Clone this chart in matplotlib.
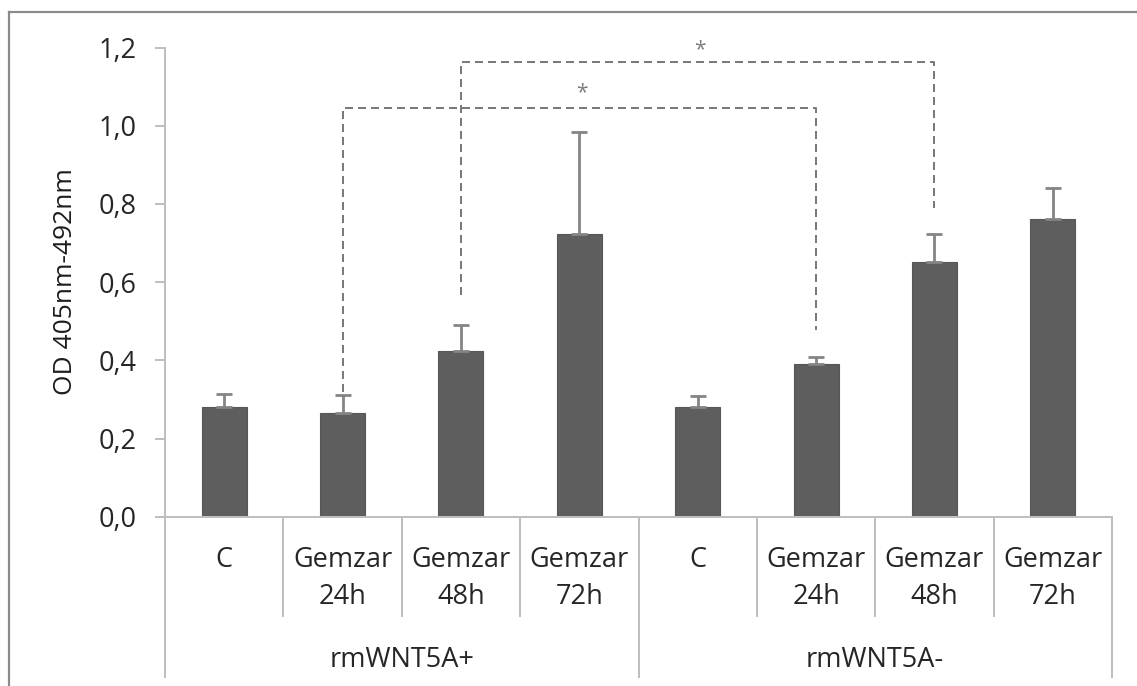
import matplotlib
matplotlib.use("Agg")
import matplotlib.pyplot as plt
from matplotlib.lines import Line2D
import numpy as np

# ---- data ----
line1 = ["C", "Gemzar", "Gemzar", "Gemzar", "C", "Gemzar", "Gemzar", "Gemzar"]
line2 = ["", "24h", "48h", "72h", "", "24h", "48h", "72h"]
groups = ["rmWNT5A+", "rmWNT5A-"]
group_size = 4
means = [0.281, 0.266, 0.425, 0.722, 0.281, 0.390, 0.651, 0.761]
err_up = [0.033, 0.045, 0.065, 0.263, 0.028, 0.019, 0.071, 0.079]
yticks = [0.0, 0.2, 0.4, 0.6, 0.8, 1.0, 1.2]
ytick_labels = ["0,0", "0,2", "0,4", "0,6", "0,8", "1,0", "1,2"]
ylabel = "OD 405nm-492nm"

bracket_pairs = [(1, 5), (2, 6)]
bracket_tops = [1.046, 1.162]
bracket_left_ends = [0.318, 0.567]
bracket_right_ends = [0.477, 0.790]
star_heights = [1.085, 1.195]

# ---- style ----
plt.rcParams['font.family'] = ['Open Sans', 'DejaVu Sans']
plt.rcParams['lines.scale_dashes'] = False
W, H = 1137, 686
px = 72 / 100.0  # points per pixel at dpi 100
text_col = "#262626"
axis_col = "#bfbfbf"
bar_col = "#5e5e5e"
err_col = "#858585"
dash_col = "#7a7a7a"
fs = 19.5

fig = plt.figure(figsize=(W / 100, H / 100), dpi=100)
x0, x1 = 165, 1112
y0, ytop = 516.7, 47.5
ax = fig.add_axes([x0 / W, (H - y0) / H, (x1 - x0) / W, (y0 - ytop) / H])

n = len(means)
xs = np.arange(n) + 0.5
ax.bar(xs, means, width=0.38, color=bar_col, edgecolor="#575757", linewidth=0.8, zorder=2)
ax.errorbar(xs, means, yerr=[np.zeros(n), err_up], fmt="none", ecolor=err_col,
            elinewidth=2.8 * px, capsize=8 * px, capthick=2.8 * px, zorder=3)

ax.set_xlim(0, n)
ax.set_ylim(0, 1.2)
ax.set_yticks(yticks)
ax.set_yticklabels(ytick_labels, fontsize=fs, color=text_col)
ax.tick_params(axis="y", length=10 * px, width=2 * px, color=axis_col, pad=18 * px, direction="out")
ax.set_xticks([])
for s in ["top", "right"]:
    ax.spines[s].set_visible(False)
for s in ["left", "bottom"]:
    ax.spines[s].set_color(axis_col)
    ax.spines[s].set_linewidth(2 * px)

# ---- multi-level category axis ----
trans = ax.get_xaxis_transform()
hpx = y0 - ytop
short = -100 / hpx
long = -161 / hpx
for i in range(n + 1):
    is_group = (i % group_size == 0)
    ax.plot([i, i], [0, long if is_group else short], transform=trans, color=axis_col,
            lw=2 * px, clip_on=False, solid_capstyle="butt")
for i in range(n):
    ax.text(xs[i], -43 / hpx, line1[i], transform=trans, ha="center", va="center",
            fontsize=fs, color=text_col)
    if line2[i]:
        ax.text(xs[i], -80 / hpx, line2[i], transform=trans, ha="center", va="center",
                fontsize=fs, color=text_col)
for g, name in enumerate(groups):
    ax.text(g * group_size + group_size / 2, -143 / hpx, name, transform=trans,
            ha="center", va="center", fontsize=fs, color=text_col)

# ---- significance brackets ----
for (a, b), top, le, re, sh in zip(bracket_pairs, bracket_tops, bracket_left_ends,
                                   bracket_right_ends, star_heights):
    ax.plot([xs[a], xs[a], xs[b], xs[b]], [le, top, top, re], color=dash_col,
            lw=2 * px, dashes=(8 * px, 5 * px), clip_on=False, zorder=1)
    ax.text((xs[a] + xs[b]) / 2 + 0.02, sh, "*", ha="center", va="center", fontsize=15,
            color="#7d7d7d", clip_on=False)

# ---- y label ----
fig.text(65 / W, 1 - 282 / H, ylabel, rotation=90, ha="center", va="center",
         fontsize=19, color="#1e1e1e")

# ---- outer frame (left and top edges) ----
fig.add_artist(Line2D([9 / W, 9 / W], [0, 1 - 12 / H], color="#8a8a8a", lw=2.2 * px))
fig.add_artist(Line2D([9 / W, 1], [1 - 12 / H, 1 - 12 / H], color="#8a8a8a", lw=2.2 * px))

fig.savefig("out.png", dpi=100)
